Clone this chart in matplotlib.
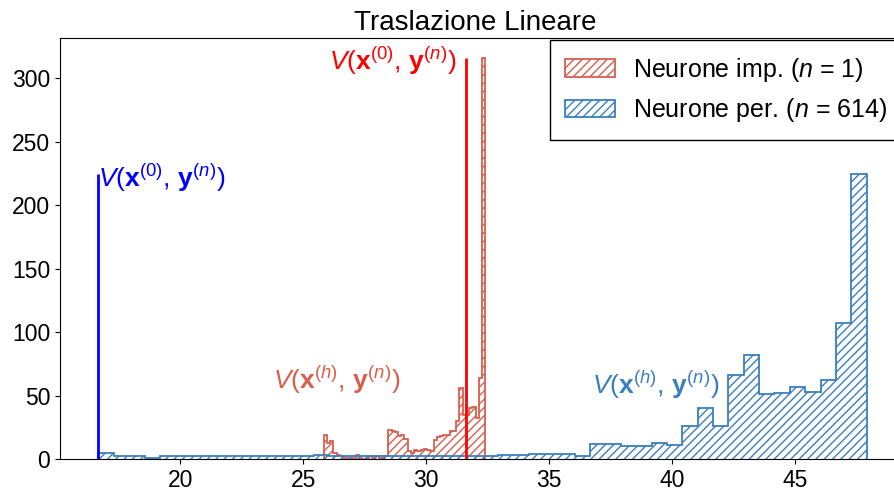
import numpy as np
import matplotlib
matplotlib.use("Agg")
import matplotlib.pyplot as plt

plt.rcParams['font.family'] = ['Liberation Sans', 'DejaVu Sans']
plt.rcParams['mathtext.fontset'] = 'custom'
plt.rcParams['mathtext.rm'] = 'Liberation Sans'
plt.rcParams['mathtext.it'] = 'Liberation Sans:italic'
plt.rcParams['mathtext.bf'] = 'Liberation Sans:bold'
plt.rcParams['hatch.linewidth'] = 1.0

# histogram of the perturbed neurons (50 bins)
per_range = (16.67, 47.91)
per_counts = [5, 2, 2, 1, 2, 2, 2, 2, 2, 2,
              2, 2, 2, 2, 3, 2, 2, 2, 2, 2,
              2, 2, 2, 2, 2, 2, 3, 3, 4, 4,
              4, 2, 12, 12, 10, 10, 13, 11, 26, 40,
              26, 66, 82, 51, 52, 57, 53, 62, 107, 225]

# histogram of the important neuron (50 bins)
imp_range = (25.83, 32.40)
imp_counts = [19, 13, 14, 5, 3, 2, 1, 1, 0, 1,
              3, 1, 0, 1, 2, 1, 2, 1, 1, 2,
              23, 22, 21, 18, 19, 16, 6, 5, 7, 6,
              7, 8, 7, 6, 15, 17, 18, 19, 19, 22,
              22, 30, 56, 35, 35, 40, 41, 32, 64, 316]

# V(x^(0), y^(n)) reference values
per_v0 = 16.67
imp_v0 = 31.63

# V(x^(h), y^(n)) label positions
imp_label_pos = (26.34, 62)
per_label_pos = (39.35, 58)

c_imp = '#d6604d'
c_per = '#3b7fbd'

fig = plt.figure(figsize=(8.94, 4.92), dpi=100)
ax = fig.add_axes([60 / 894, 33 / 492, 845 / 894, 421 / 492])

imp_edges = np.linspace(imp_range[0], imp_range[1], len(imp_counts) + 1)
per_edges = np.linspace(per_range[0], per_range[1], len(per_counts) + 1)

ax.hist(imp_edges[:-1], bins=imp_edges, weights=imp_counts, histtype='step',
        hatch='////', color=c_imp, linewidth=1.3,
        label=r'Neurone imp. ($n$ = 1)')
ax.hist(per_edges[:-1], bins=per_edges, weights=per_counts, histtype='step',
        hatch='////', color=c_per, linewidth=1.3,
        label=r'Neurone per. ($n$ = 614)')

ax.vlines(per_v0, 0, max(per_counts), color='blue', linewidth=2)
ax.vlines(imp_v0, 0, max(imp_counts), color='red', linewidth=2)

lab0 = r'$V(\mathbf{x}^{(0)},\,\mathbf{y}^{(n)})$'
labh = r'$V(\mathbf{x}^{(h)},\,\mathbf{y}^{(n)})$'
ax.annotate(lab0, (per_v0, max(per_counts)),
            xytext=(0, -3), textcoords='offset points', color='blue',
            fontsize=19, ha='left', va='center')
ax.annotate(lab0, (imp_v0, max(imp_counts)),
            xytext=(-7, -2), textcoords='offset points', color='red',
            fontsize=19, ha='right', va='center')
ax.text(*imp_label_pos, labh, color=c_imp, fontsize=19, ha='center', va='center')
ax.text(*per_label_pos, labh, color=c_per, fontsize=19, ha='center', va='center')

ax.set_title('Traslazione Lineare', fontsize=20, x=0.492)
ax.tick_params(labelsize=16.5)
leg = ax.legend(loc='upper right', fontsize=18, fancybox=False,
                edgecolor='black', framealpha=1, borderaxespad=0.1,
                borderpad=0.62, handlelength=2.0, handletextpad=0.7)
leg.get_frame().set_linewidth(1.0)

fig.savefig('out.png', dpi=100)
